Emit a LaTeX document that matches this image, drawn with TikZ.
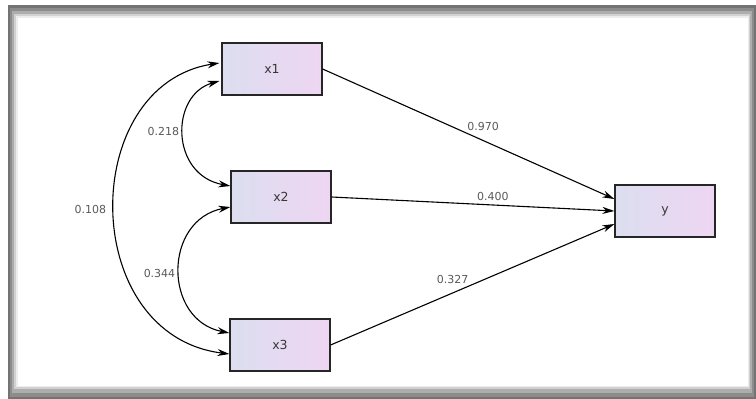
\documentclass[tikz,border=0pt]{standalone}
\usepackage{fontspec}
\setmainfont{DejaVu Sans}
\usetikzlibrary{arrows.meta}
\definecolor{boxL}{RGB}{220,222,240}
\definecolor{boxR}{RGB}{238,214,242}
\definecolor{lab}{RGB}{90,90,90}
\definecolor{ntext}{RGB}{55,55,55}
\tikzset{
  var/.style={draw=black!85, line width=1.2pt, left color=boxL, right color=boxR,
    minimum width=100pt, minimum height=52pt, inner sep=0pt,
    font=\fontsize{12.5}{13}\selectfont, text=ntext},
  path/.style={line width=1.1pt, -{Stealth[length=12pt,width=7pt]}},
  cov/.style={line width=1.1pt, {Stealth[length=12pt,width=7pt]}-{Stealth[length=12pt,width=7pt]}},
  lbl/.style={font=\fontsize{11}{12}\selectfont, text=lab, inner sep=1pt}
}
\begin{document}
\begin{tikzpicture}[x=1pt,y=-1pt]
\useasboundingbox (0,0) rectangle (756,399);
% frame
\fill[white] (0,0) rectangle (756,399);
\fill[black!55] (8,5) rectangle (756,399);
\fill[black!45] (10,8) rectangle (754,397);
\fill[black!32] (12,11) rectangle (752,393);
\fill[black!18] (14,14) rectangle (750,389);
\fill[black!7] (16,16) rectangle (749,387);
\fill[white] (18,18) rectangle (748,386);
% nodes
\node[var] (x1) at (272,69) {x1};
\node[var] (x2) at (281,197) {x2};
\node[var] (x3) at (280,345) {x3};
\node[var] (y) at (665,211) {y};
% paths
\draw[path] (x1.east) -- ([yshift=12pt]y.west) node[lbl, pos=0.55, above=8pt] {0.970};
\draw[path] (x2.east) -- (y.west) node[lbl, pos=0.57, above=3pt] {0.400};
\draw[path] (x3.east) -- ([yshift=-13pt]y.west) node[lbl, pos=0.43, above=8pt] {0.327};
% covariances
\draw[cov] ([xshift=-2pt,yshift=-12pt]x1.west) .. controls (170,95) and (170,175) .. ([yshift=11pt]x2.west)
  node[lbl, pos=0.48, left=3pt] {0.218};
\draw[cov] ([yshift=-10pt]x2.west) .. controls (163,220) and (163,320) .. ([yshift=12pt]x3.west)
  node[lbl, pos=0.52, left=3pt] {0.344};
\draw[cov] ([xshift=-2pt,yshift=6pt]x1.west) .. controls (78,85) and (78,335) .. ([yshift=-9pt]x3.west)
  node[lbl, pos=0.5, left=7pt] {0.108};
\end{tikzpicture}
\end{document}
